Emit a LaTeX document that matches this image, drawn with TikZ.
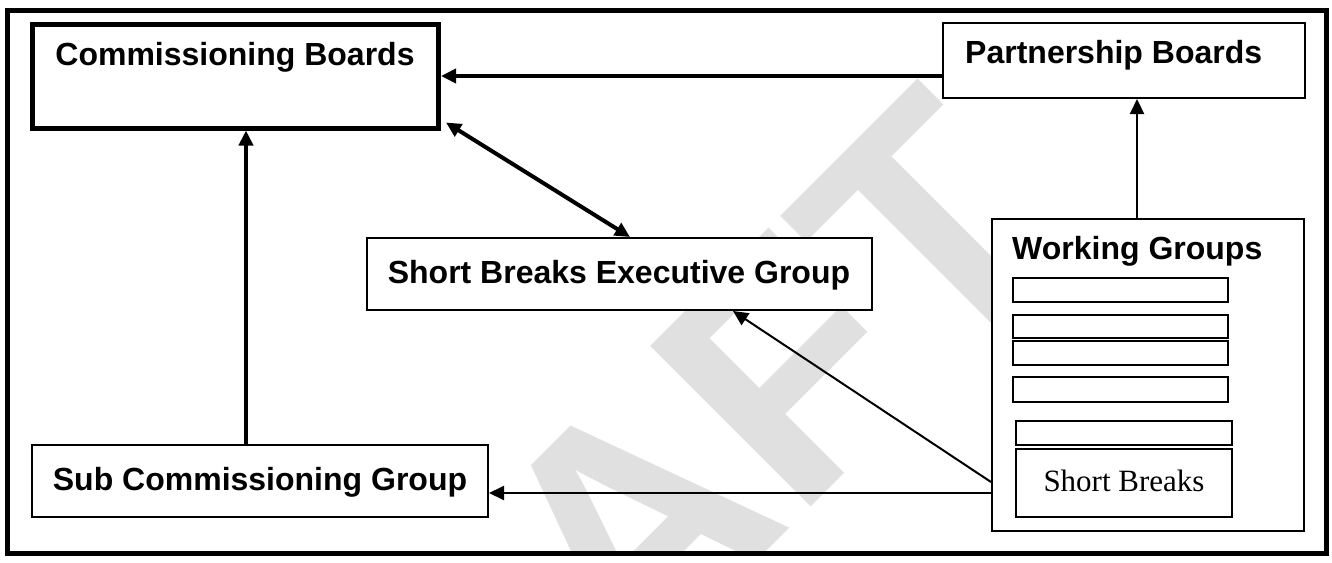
\documentclass[tikz,border=0pt]{standalone}
\usepackage{fontspec}
\setmainfont{Liberation Sans}
\newfontfamily\tnr{Liberation Serif}
\usetikzlibrary{arrows.meta}
\begin{document}
\begin{tikzpicture}[x=1pt,y=-1pt,
  box/.style={draw, fill=white, line width=2pt, inner sep=0pt},
  thickbox/.style={draw, fill=white, line width=5pt, inner sep=0pt},
  lbl/.style={font=\bfseries\fontsize{32}{38}\selectfont, inner sep=0pt, anchor=base},
  thickarr/.style={line width=4.5pt, -{Triangle[length=15pt,width=14pt]}},
  dblarr/.style={line width=4pt, {Triangle[length=15pt,width=14pt]}-{Triangle[length=15pt,width=14pt]}},
  thinarr/.style={line width=2pt, -{Triangle[length=15pt,width=14pt]}},
  wm/.style={font=\bfseries\fontsize{330}{330}\selectfont, text=black!12, inner sep=0pt, rotate=45, anchor=base west}]
\useasboundingbox (0,0) rectangle (1332,562);
% watermark
\begin{scope}
  \clip (10,13) rectangle (1323,550);
  \node[wm] (draft) at (290,1028) {DRAFT};
\end{scope}
% outer frame
\node[draw, line width=5pt, inner sep=0pt, minimum width=1319pt, minimum height=543pt] (frame) at (666.5,281.5) {};
% boxes
\node[thickbox, minimum width=406pt, minimum height=104pt] (cb) at (235.5,76) {};
\node[lbl] (cbt) at (235,65) {Commissioning Boards};
\node[box, minimum width=362pt, minimum height=75pt] (pb) at (1124,60.5) {};
\node[lbl, anchor=base west] (pbt) at (965,63) {Partnership Boards};
\node[box, minimum width=505pt, minimum height=72pt] (sbeg) at (619.5,274) {};
\node[lbl] (sbegt) at (619,283) {Short Breaks Executive Group};
\node[box, minimum width=456pt, minimum height=72pt] (scg) at (260,481) {};
\node[lbl] (scgt) at (260,490) {Sub Commissioning Group};
\node[box, minimum width=312pt, minimum height=312pt] (wg) at (1148,375) {};
\node[lbl, anchor=base west] (wgt) at (1012,259) {Working Groups};
\node[box, minimum width=215pt, minimum height=24pt] (s1) at (1120.5,290) {};
\node[box, minimum width=215pt, minimum height=23pt] (s2) at (1120.5,326.5) {};
\node[box, minimum width=215pt, minimum height=24pt] (s3) at (1120.5,353) {};
\node[box, minimum width=215pt, minimum height=25pt] (s4) at (1120.5,389.5) {};
\node[box, minimum width=216pt, minimum height=24pt] (s5) at (1124,433) {};
\node[box, minimum width=216pt, minimum height=68pt] (s6) at (1124,483) {};
\node[inner sep=0pt, anchor=base, font=\tnr\fontsize{31}{36}\selectfont] (s6t) at (1124,491) {Short Breaks};
% connectors
\draw[thickarr] (pb.west |- 0,76) -- (cb.east |- 0,76);
\draw[thickarr] (scg.north -| 246,0) -- (cb.south -| 246,0);
\draw[dblarr] ([xshift=5pt,yshift=8pt]cb.south east) -- ([xshift=10.5pt]sbeg.north);
\draw[thinarr] (wg.north -| 1137,0) -- (pb.south -| 1137,0);
\draw[thinarr] (wg.west |- 0,482) -- ([xshift=113.5pt]sbeg.south);
\draw[thinarr] (wg.west |- 0,493) -- (scg.east |- 0,493);
\end{tikzpicture}
\end{document}
